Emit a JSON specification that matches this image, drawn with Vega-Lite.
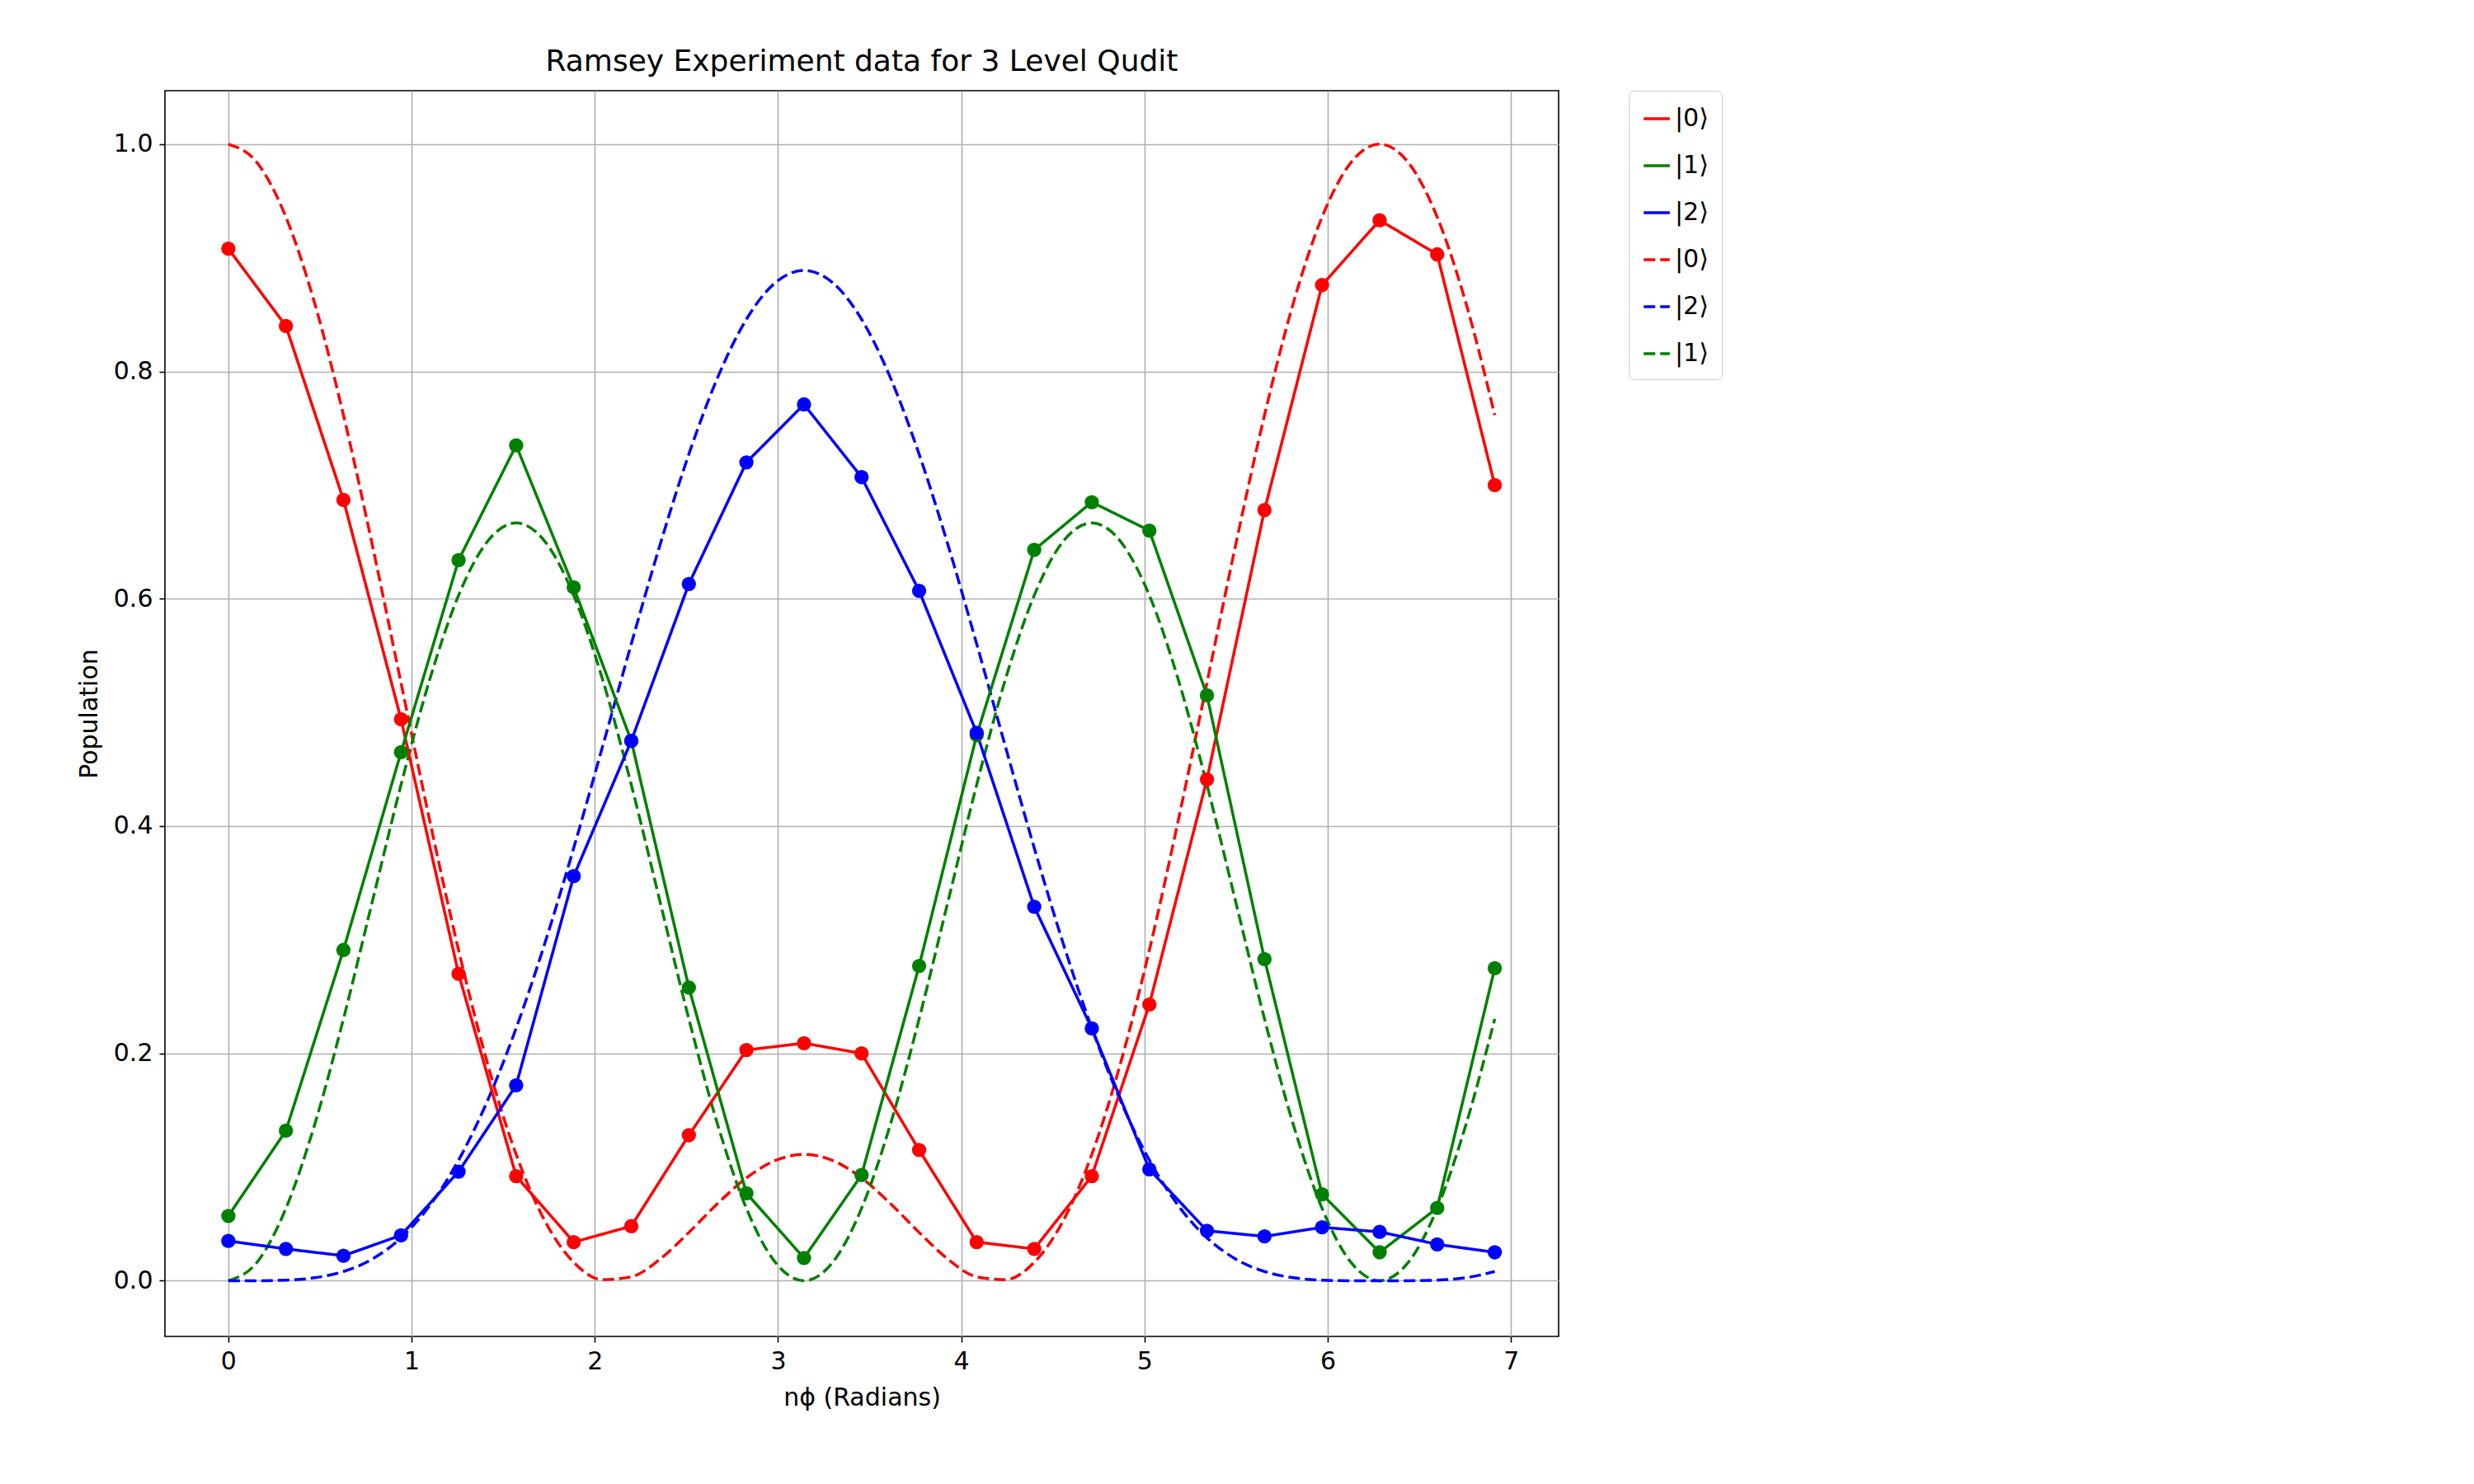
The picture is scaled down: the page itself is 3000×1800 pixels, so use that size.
{
  "$schema": "https://vega.github.io/schema/vega-lite/v6.json",
  "autosize": "none",
  "width": 1690,
  "height": 1511,
  "padding": {"left": 200, "top": 110, "right": 1110, "bottom": 179},
  "background": "white",
  "title": {"text": "Ramsey Experiment data for 3 Level Qudit", "fontSize": 36, "font": "DejaVu Sans", "fontWeight": "normal", "offset": 16},
  "datasets": {
    "theory": [
      {"x": 0, "t0": 1, "t1": 0, "t2": 0},
      {"x": 0.1571, "t0": 0.98366, "t1": 0.01631, "t2": 0.00003},
      {"x": 0.3142, "t0": 0.93581, "t1": 0.06366, "t2": 0.00053},
      {"x": 0.4712, "t0": 0.85996, "t1": 0.1374, "t2": 0.00264},
      {"x": 0.6283, "t0": 0.76157, "t1": 0.23033, "t2": 0.00811},
      {"x": 0.7854, "t0": 0.6476, "t1": 0.33334, "t2": 0.01906},
      {"x": 0.9425, "t0": 0.5259, "t1": 0.43634, "t2": 0.03776},
      {"x": 1.0996, "t0": 0.40449, "t1": 0.52926, "t2": 0.06625},
      {"x": 1.2566, "t0": 0.2909, "t1": 0.603, "t2": 0.1061},
      {"x": 1.4137, "t0": 0.19151, "t1": 0.65035, "t2": 0.15814},
      {"x": 1.5708, "t0": 0.11111, "t1": 0.66667, "t2": 0.22222},
      {"x": 1.7279, "t0": 0.05246, "t1": 0.65036, "t2": 0.29718},
      {"x": 1.885, "t0": 0.01621, "t1": 0.60301, "t2": 0.38078},
      {"x": 2.042, "t0": 0.00094, "t1": 0.52926, "t2": 0.4698},
      {"x": 2.1991, "t0": 0.00343, "t1": 0.43633, "t2": 0.56024},
      {"x": 2.3562, "t0": 0.01906, "t1": 0.33334, "t2": 0.6476},
      {"x": 2.5133, "t0": 0.04244, "t1": 0.23033, "t2": 0.72723},
      {"x": 2.6704, "t0": 0.06795, "t1": 0.1374, "t2": 0.79465},
      {"x": 2.8274, "t0": 0.09043, "t1": 0.06365, "t2": 0.84592},
      {"x": 2.9845, "t0": 0.10571, "t1": 0.01631, "t2": 0.87798},
      {"x": 3.1416, "t0": 0.11111, "t1": 0, "t2": 0.88889},
      {"x": 3.2987, "t0": 0.10571, "t1": 0.01631, "t2": 0.87798},
      {"x": 3.4558, "t0": 0.09043, "t1": 0.06365, "t2": 0.84592},
      {"x": 3.6128, "t0": 0.06795, "t1": 0.1374, "t2": 0.79465},
      {"x": 3.7699, "t0": 0.04244, "t1": 0.23033, "t2": 0.72723},
      {"x": 3.927, "t0": 0.01906, "t1": 0.33334, "t2": 0.6476},
      {"x": 4.0841, "t0": 0.00343, "t1": 0.43633, "t2": 0.56024},
      {"x": 4.2412, "t0": 0.00094, "t1": 0.52926, "t2": 0.4698},
      {"x": 4.3982, "t0": 0.01621, "t1": 0.60301, "t2": 0.38078},
      {"x": 4.5553, "t0": 0.05246, "t1": 0.65036, "t2": 0.29718},
      {"x": 4.7124, "t0": 0.11111, "t1": 0.66667, "t2": 0.22222},
      {"x": 4.8695, "t0": 0.19151, "t1": 0.65035, "t2": 0.15814},
      {"x": 5.0265, "t0": 0.2909, "t1": 0.603, "t2": 0.1061},
      {"x": 5.1836, "t0": 0.40449, "t1": 0.52926, "t2": 0.06625},
      {"x": 5.3407, "t0": 0.5259, "t1": 0.43634, "t2": 0.03776},
      {"x": 5.4978, "t0": 0.6476, "t1": 0.33334, "t2": 0.01906},
      {"x": 5.6549, "t0": 0.76157, "t1": 0.23033, "t2": 0.00811},
      {"x": 5.8119, "t0": 0.85996, "t1": 0.1374, "t2": 0.00264},
      {"x": 5.969, "t0": 0.93581, "t1": 0.06366, "t2": 0.00053},
      {"x": 6.1261, "t0": 0.98366, "t1": 0.01631, "t2": 0.00003},
      {"x": 6.2832, "t0": 1, "t1": 0, "t2": 0},
      {"x": 6.4403, "t0": 0.98366, "t1": 0.01631, "t2": 0.00003},
      {"x": 6.5973, "t0": 0.93581, "t1": 0.06366, "t2": 0.00053},
      {"x": 6.7544, "t0": 0.85996, "t1": 0.1374, "t2": 0.00264},
      {"x": 6.9115, "t0": 0.76157, "t1": 0.23033, "t2": 0.00811}
    ],
    "exp": [
      {"x": 0, "e0": 0.908, "e1": 0.057, "e2": 0.035},
      {"x": 0.3142, "e0": 0.840, "e1": 0.132, "e2": 0.028},
      {"x": 0.6283, "e0": 0.687, "e1": 0.291, "e2": 0.022},
      {"x": 0.9425, "e0": 0.494, "e1": 0.465, "e2": 0.040},
      {"x": 1.2566, "e0": 0.270, "e1": 0.634, "e2": 0.096},
      {"x": 1.5708, "e0": 0.092, "e1": 0.735, "e2": 0.172},
      {"x": 1.885, "e0": 0.034, "e1": 0.610, "e2": 0.356},
      {"x": 2.1991, "e0": 0.048, "e1": 0.475, "e2": 0.475},
      {"x": 2.5133, "e0": 0.128, "e1": 0.258, "e2": 0.613},
      {"x": 2.8274, "e0": 0.203, "e1": 0.077, "e2": 0.720},
      {"x": 3.1416, "e0": 0.209, "e1": 0.020, "e2": 0.771},
      {"x": 3.4558, "e0": 0.200, "e1": 0.093, "e2": 0.707},
      {"x": 3.7699, "e0": 0.115, "e1": 0.277, "e2": 0.607},
      {"x": 4.0841, "e0": 0.034, "e1": 0.480, "e2": 0.482},
      {"x": 4.3982, "e0": 0.028, "e1": 0.643, "e2": 0.329},
      {"x": 4.7124, "e0": 0.092, "e1": 0.685, "e2": 0.222},
      {"x": 5.0265, "e0": 0.243, "e1": 0.660, "e2": 0.098},
      {"x": 5.3407, "e0": 0.441, "e1": 0.515, "e2": 0.044},
      {"x": 5.6549, "e0": 0.678, "e1": 0.283, "e2": 0.039},
      {"x": 5.969, "e0": 0.876, "e1": 0.076, "e2": 0.047},
      {"x": 6.2832, "e0": 0.933, "e1": 0.025, "e2": 0.043},
      {"x": 6.5973, "e0": 0.903, "e1": 0.064, "e2": 0.032},
      {"x": 6.9115, "e0": 0.700, "e1": 0.275, "e2": 0.025}
    ]
  },
  "encoding": {
    "x": {"field": "x", "type": "quantitative", "title": "nϕ (Radians)",
      "scale": {"domain": [-0.346, 7.26], "nice": false, "zero": false},
      "axis": {"values": [0, 1, 2, 3, 4, 5, 6, 7], "format": "d"}},
    "y": {"field": "y", "type": "quantitative", "title": "Population",
      "scale": {"domain": [-0.049, 1.047], "nice": false},
      "axis": {"values": [0, 0.2, 0.4, 0.6, 0.8, 1.0], "format": ".1f"}},
    "color": {"field": "s", "type": "nominal", "title": null,
      "scale": {"domain": ["e0", "e1", "e2", "t0", "t2", "t1"], "range": ["#ff0000", "#008000", "#0000ff", "#ff0000", "#0000ff", "#008000"]},
      "legend": {"labelExpr": "'|' + substring(datum.value, 1, 2) + '⟩'"}},
    "strokeDash": {"field": "s", "type": "nominal", "title": null,
      "scale": {"domain": ["e0", "e1", "e2", "t0", "t2", "t1"], "range": [[1, 0], [1, 0], [1, 0], [14, 6], [14, 6], [14, 6]]},
      "legend": {"labelExpr": "'|' + substring(datum.value, 1, 2) + '⟩'"}}
  },
  "layer": [
    {
      "data": {"name": "theory"},
      "transform": [{"fold": ["t0", "t1", "t2"], "as": ["s", "y"]}],
      "mark": {"type": "line", "strokeWidth": 3.5, "interpolate": "monotone", "clip": true}
    },
    {
      "data": {"name": "exp"},
      "transform": [{"fold": ["e0", "e1", "e2"], "as": ["s", "y"]}],
      "mark": {"type": "line", "strokeWidth": 3.5}
    },
    {
      "data": {"name": "exp"},
      "transform": [{"fold": ["e0", "e1", "e2"], "as": ["s", "y"]}],
      "mark": {"type": "point", "filled": true, "shape": "circle", "size": 300, "opacity": 1},
      "encoding": {"strokeDash": {"value": [1, 0]}}
    }
  ],
  "config": {
    "font": "DejaVu Sans",
    "view": {"stroke": "black", "strokeWidth": 1.6},
    "axis": {
      "grid": true, "gridColor": "#b0b0b0", "gridWidth": 1.6,
      "domain": false, "tickColor": "black", "tickSize": 7, "tickWidth": 1.6,
      "labelFontSize": 30, "labelColor": "black", "labelPadding": 8,
      "titleFontSize": 30, "titleFontWeight": "normal", "titleColor": "black", "titlePadding": 14
    },
    "legend": {
      "orient": "none", "legendX": 1775, "legendY": 0,
      "symbolType": "stroke", "symbolSize": 1000, "symbolStrokeWidth": 3.5,
      "labelFontSize": 30, "labelColor": "black", "rowPadding": 24,
      "strokeColor": "#cccccc", "fillColor": "white", "padding": 16, "cornerRadius": 6
    }
  }
}
